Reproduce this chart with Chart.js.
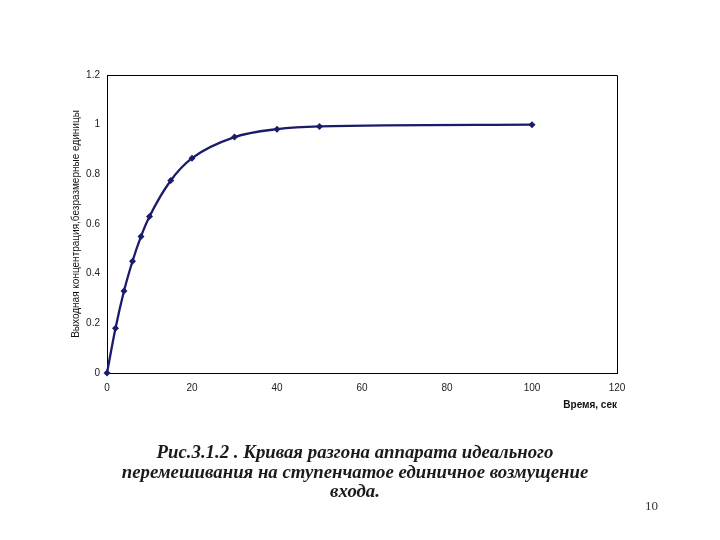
<!DOCTYPE html>
<html>
<head>
<meta charset="utf-8">
<script src="https://cdn.jsdelivr.net/npm/chart.js@4"></script>
<style>
  html, body { margin: 0; padding: 0; background: #fff; }
  #wrap { position: relative; width: 720px; height: 540px; }
  #chart { position: absolute; left: 0; top: 0; }
  .caption {
    position: absolute; left: 55px; width: 600px; top: 442px;
    text-align: center; font-family: "Liberation Serif", "DejaVu Serif", serif;
    font-weight: bold; font-style: italic; font-size: 18.8px; line-height: 19.5px; color: #1a1a1a;
  }
  .page { position: absolute; left: 645px; top: 498px; font-family: "Liberation Serif", serif; font-size: 13px; color: #333; }
</style>
</head>
<body>
<div id="wrap">
  <canvas id="chart" width="720" height="540"></canvas>
  <div class="caption">Рис.3.1.2 . Кривая разгона аппарата идеального<br>перемешивания на ступенчатое единичное возмущение<br>входа.</div>
  <div class="page">10</div>
</div>
<script>
// data
const timeSec = [0, 2, 4, 6, 8, 10, 15, 20, 30, 40, 50, 100];
const outConc = [0, 0.18, 0.33, 0.45, 0.55, 0.63, 0.775, 0.865, 0.95, 0.982, 0.993, 1.0];
const xTicks = [0, 20, 40, 60, 80, 100, 120];
const yTicks = [0, 0.2, 0.4, 0.6, 0.8, 1, 1.2];

const lineColor = '#1b1b6b';
const tickFont = { family: 'Arial, "Liberation Sans", sans-serif', size: 10 };

// top and right sides of the plot frame
const frameBox = {
  id: 'frameBox',
  afterDraw(chart) {
    const { ctx, chartArea: a } = chart;
    ctx.save();
    ctx.strokeStyle = '#000';
    ctx.lineWidth = 1;
    ctx.beginPath();
    ctx.moveTo(a.left, a.top + 0.5);
    ctx.lineTo(a.right + 0.5, a.top + 0.5);
    ctx.lineTo(a.right + 0.5, a.bottom);
    ctx.stroke();
    ctx.restore();
  }
};

new Chart(document.getElementById('chart'), {
  type: 'scatter',
  data: {
    datasets: [{
      data: timeSec.map((t, i) => ({ x: t, y: outConc[i] })),
      showLine: true,
      borderColor: lineColor,
      borderWidth: 2.3,
      backgroundColor: lineColor,
      pointStyle: 'rectRot',
      pointRadius: 3.5,
      pointBorderWidth: 0,
      cubicInterpolationMode: 'monotone',
      clip: false
    }]
  },
  options: {
    responsive: false,
    animation: false,
    layout: { padding: { left: 70, top: 75, right: 103, bottom: 129 } },
    plugins: { legend: { display: false }, tooltip: { enabled: false } },
    scales: {
      x: {
        type: 'linear', min: 0, max: 120,
        afterBuildTicks: (s) => { s.ticks = xTicks.map((v) => ({ value: v })); },
        afterFit: (s) => { s.height = 38; },
        grid: { display: false, drawTicks: false },
        border: { display: true, color: '#000', width: 1 },
        ticks: { color: '#222', font: tickFont, padding: 9 },
        title: { display: true, text: 'Время, сек', align: 'end', color: '#111',
                 font: { family: 'Arial, "Liberation Sans", sans-serif', size: 10, weight: 'bold' }, padding: 0 }
      },
      y: {
        type: 'linear', min: 0, max: 1.2,
        afterBuildTicks: (s) => { s.ticks = yTicks.map((v) => ({ value: v })); },
        afterFit: (s) => { s.width = 37; },
        grid: { display: false, drawTicks: false },
        border: { display: true, color: '#000', width: 1 },
        ticks: { color: '#222', font: tickFont, padding: 7, callback: (v) => String(v) },
        title: { display: true, text: 'Выходная концентрация,безразмерные единицы', color: '#111',
                 font: { family: 'Arial, "Liberation Sans", sans-serif', size: 10 }, padding: 0 }
      }
    }
  },
  plugins: [frameBox]
});
</script>
</body>
</html>
